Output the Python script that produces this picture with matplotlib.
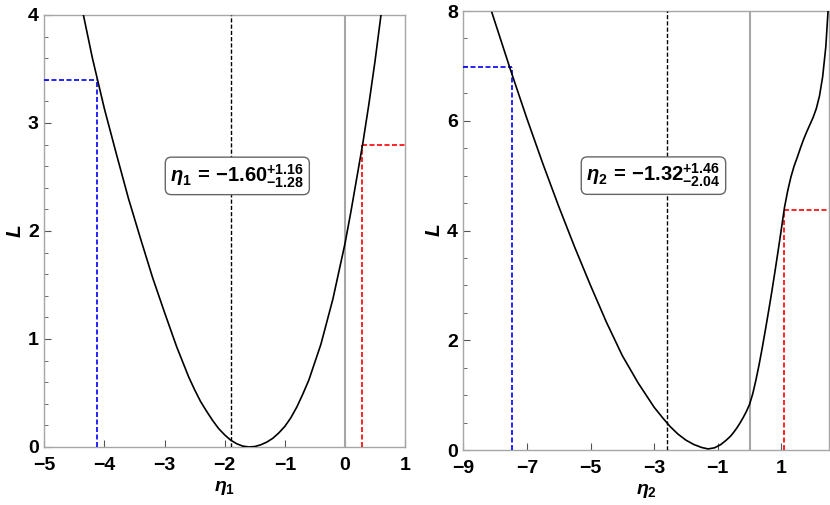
import matplotlib
matplotlib.use('Agg')
import matplotlib.pyplot as plt
from matplotlib.ticker import MultipleLocator, FixedLocator

# ---- fonts: bold sans like the original ----
plt.rcParams['font.family'] = ['Liberation Sans', 'DejaVu Sans']
plt.rcParams['font.weight'] = 'bold'
plt.rcParams['mathtext.fontset'] = 'custom'
plt.rcParams['mathtext.rm'] = 'Liberation Sans:bold'
plt.rcParams['mathtext.bf'] = 'Liberation Sans:bold'
plt.rcParams['mathtext.it'] = 'Liberation Sans:bold:italic'

# ---- data ----
# panel 1: profile of eta_1
eta1 = [-4.35, -4.2, -4.0, -3.8, -3.6, -3.4, -3.2, -3.0, -2.8, -2.6, -2.5, -2.4,
        -2.3, -2.2, -2.1, -2.0, -1.9, -1.8, -1.7, -1.6, -1.5, -1.4, -1.3, -1.2,
        -1.1, -1.0, -0.9, -0.8, -0.7, -0.6, -0.4, -0.2, 0.0, 0.1, 0.2, 0.3,
        0.4, 0.5, 0.6]
L1 = [4.00, 3.60, 3.13, 2.71, 2.30, 1.93, 1.57, 1.245, 0.93, 0.65, 0.53, 0.42,
      0.33, 0.245, 0.17, 0.112, 0.063, 0.03, 0.008, 0.0, 0.004, 0.02, 0.045, 0.08,
      0.13, 0.19, 0.27, 0.37, 0.49, 0.62, 0.95, 1.37, 1.88, 2.18, 2.50, 2.82,
      3.18, 3.57, 4.0]
best1, lo1, hi1 = -1.89, -4.12, 0.29
lo1_L, hi1_L = 3.40, 2.80

# panel 2: profile of eta_2
eta2 = [-8.1, -7.5, -7.0, -6.5, -6.0, -5.5, -5.0, -4.5, -4.0, -3.5, -3.0, -2.75,
        -2.5, -2.25, -2.0, -1.75, -1.5, -1.3, -1.1, -0.9, -0.73, -0.6, -0.5,
        -0.4, -0.3, -0.2, -0.1, 0.0, 0.1, 0.2, 0.3, 0.4, 0.5, 0.6, 0.7, 0.8,
        0.9, 1.0, 1.1, 1.2, 1.3, 1.4, 1.5, 1.6, 1.7, 1.8, 1.9, 2.0, 2.1, 2.2,
        2.3, 2.4, 2.47]
L2 = [7.97, 6.90, 6.04, 5.22, 4.44, 3.70, 3.00, 2.33, 1.72, 1.22, 0.78, 0.60,
      0.43, 0.29, 0.18, 0.10, 0.045, 0.02, 0.04, 0.10, 0.18, 0.25, 0.32,
      0.40, 0.49, 0.59, 0.70, 0.83, 1.02, 1.27, 1.55, 1.86, 2.19, 2.53, 2.88,
      3.25, 3.63, 4.02, 4.42, 4.72, 4.97, 5.17, 5.33, 5.50, 5.66, 5.80, 5.93,
      6.06, 6.22, 6.45, 6.80, 7.35, 8.0]
best2, lo2, hi2 = -2.61, -7.47, 1.10
lo2_L, hi2_L = 6.98, 4.38

labels = [r'$\eta_1\,=\,{-}1.60^{+1.16}_{-1.28}$',
          r'$\eta_2\,=\,{-}1.32^{+1.46}_{-2.04}$']

fig = plt.figure(figsize=(8.3, 5.05), dpi=100)
ax1 = fig.add_axes([0.0534, 0.1149, 0.4346, 0.8554])
ax2 = fig.add_axes([0.5582, 0.1089, 0.4406, 0.8693])

frame = '#a6a6a6'
dash = (0, (3, 1.5))


def draw(ax, x, y, best, lo, hi, lo_L, hi_L, xlim, ylim, label, lab_pos, xname):
    ax.plot(x, y, color='black', lw=1.2, zorder=4)
    ax.axvline(0, color=frame, lw=1.5, zorder=2)
    ax.axvline(best, color='black', lw=1.0, ls=dash, zorder=3)
    ax.plot([lo, lo], [ylim[0], lo_L], color='blue', lw=1.2, ls=dash, zorder=3)
    ax.plot([xlim[0], lo], [lo_L, lo_L], color='blue', lw=1.2, ls=dash, zorder=3)
    ax.plot([hi, hi], [ylim[0], hi_L], color='red', lw=1.2, ls=dash, zorder=3)
    ax.plot([hi, xlim[1]], [hi_L, hi_L], color='red', lw=1.2, ls=dash, zorder=3)
    ax.set_xlim(*xlim)
    ax.set_ylim(*ylim)
    for s in ax.spines.values():
        s.set_color(frame)
        s.set_linewidth(1.0)
    ax.tick_params(which='both', direction='in', top=False, right=False,
                   labelsize=14, color='#555555')
    ax.tick_params(axis='x', pad=7)
    ax.tick_params(axis='y', pad=4)
    ax.tick_params(which='major', length=5, width=0.8)
    ax.tick_params(which='minor', length=3, width=0.6)
    ax.text(lab_pos[0], lab_pos[1], label, ha='center', va='center', fontsize=14.5,
            zorder=6,
            bbox=dict(boxstyle='round,pad=0.25,rounding_size=0.3', fc='white',
                      ec='#666666', lw=1.0))
    ax.set_xlabel(xname, fontsize=14, labelpad=4)
    ax.set_ylabel(r'$L$', fontsize=15, labelpad=2)


draw(ax1, eta1, L1, best1, lo1, hi1, lo1_L, hi1_L, (-5, 1), (0, 4), labels[0],
     (-1.79, 2.51), r'$\eta_1$')
ax1.xaxis.set_major_locator(MultipleLocator(1))
ax1.yaxis.set_major_locator(MultipleLocator(1))
ax1.yaxis.set_minor_locator(MultipleLocator(0.2))

draw(ax2, eta2, L2, best2, lo2, hi2, lo2_L, hi2_L, (-9, 2.5), (0, 8), labels[1],
     (-3.02, 5.0), r'$\eta_2$')
ax2.xaxis.set_major_locator(FixedLocator([-9, -7, -5, -3, -1, 1]))
ax2.yaxis.set_major_locator(MultipleLocator(2))
ax2.yaxis.set_minor_locator(MultipleLocator(0.5))

fig.savefig('out.png', dpi=100)
